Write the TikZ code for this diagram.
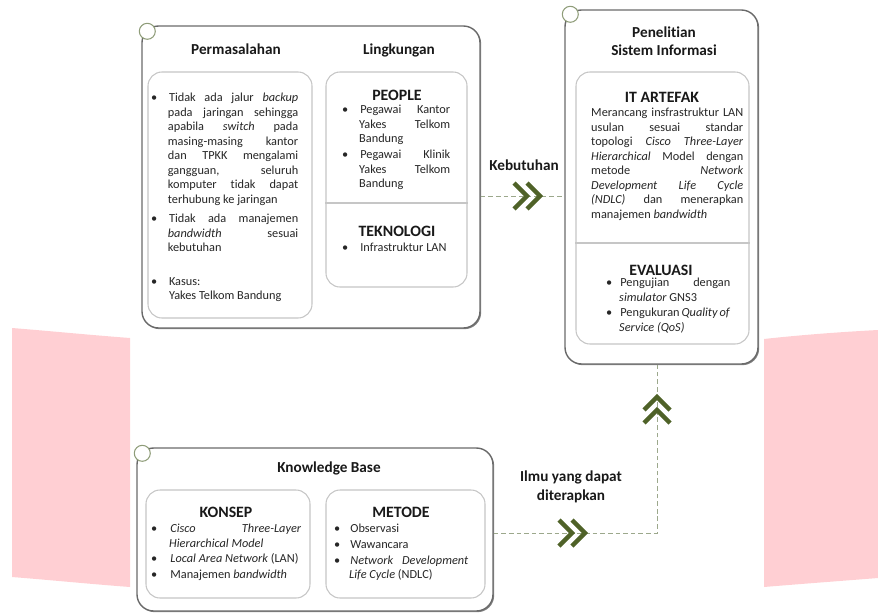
\documentclass[tikz,border=0pt]{standalone}
\usepackage{fontspec}
\setmainfont{Carlito}[Ligatures=NoCommon]
\usetikzlibrary{positioning, shadows}

\definecolor{chevgreen}{HTML}{4F6228}
\definecolor{dashgreen}{HTML}{9CA88C}
\definecolor{ringgreen}{HTML}{8E9C78}
\definecolor{frame}{HTML}{6A6A6A}
\definecolor{softframe}{HTML}{C6C6C6}
\definecolor{pinkband}{HTML}{FFCFD3}

\hyphenpenalty=10000
\exhyphenpenalty=10000
\tolerance=9999
\hbadness=10000

% bullet list used inside the boxes
\newenvironment{dotlist}[1]{%
  \begin{list}{\textbullet}{%
    \setlength{\leftmargin}{#1}%
    \setlength{\labelwidth}{0.15cm}%
    \setlength{\labelsep}{\dimexpr#1-0.15cm\relax}%
    \setlength{\itemsep}{1pt}\setlength{\parsep}{0pt}%
    \setlength{\topsep}{0pt}\setlength{\partopsep}{0pt}}}%
  {\end{list}}

\begin{document}
\begin{tikzpicture}[
        x=0.03cm, y=-0.03cm,
        outerbox/.style={draw=frame, line width=1.2pt, fill=white, rounded corners=0.5cm,
            drop shadow={shadow xshift=1pt, shadow yshift=-1pt, fill=black!60, opacity=0.8}},
        innerbox/.style={draw=softframe, line width=0.9pt, fill=white, rounded corners=0.42cm},
        ring/.style={circle, draw=ringgreen, line width=0.9pt, fill=white, minimum size=0.48cm, inner sep=0pt},
        title/.style={font=\fontsize{13}{16}\selectfont\bfseries, text=black!90, align=center},
        header/.style={font=\fontsize{13.5}{16}\selectfont\bfseries, text=black!90},
        body/.style={anchor=north west, inner sep=0pt, align=justify,
            font=\fontsize{10.5}{12.4}\selectfont, text=black!85},
        link/.style={draw=dashgreen, line width=0.8pt, dash pattern=on 4pt off 2.5pt},
        chevron/.style={draw=chevgreen, line width=3.8pt},
        chevrons/.pic={
            \draw[chevron] (-13,-13) -- (0,0) -- (-13,13);
            \draw[chevron] (0,-13) -- (13,0) -- (0,13);}
        ]
        \useasboundingbox (0,0) rectangle (878,614);

        % background bands
        \fill[pinkband] (12,328) .. controls (50,331) and (90,335) .. (130,338) -- (130,587)
            .. controls (90,584) and (50,580) .. (12,577) -- cycle;
        \fill[pinkband] (764,339) .. controls (800,335) and (840,332) .. (878,330) -- (878,578)
            .. controls (840,581) and (800,584) .. (764,587) -- cycle;

        % outer boxes
        \node[outerbox, minimum width=10.14cm, minimum height=9.06cm] (env) at (311,177) {};
        \node[outerbox, minimum width=5.79cm, minimum height=10.62cm] (riset) at (661.5,187) {};
        \node[outerbox, minimum width=10.68cm, minimum height=4.89cm] (kb) at (315,529.5) {};
        \node[ring] (envring) at ([shift={(6,6)}]env.north west) {};
        \node[ring] (risetring) at ([shift={(6,5)}]riset.north west) {};
        \node[ring] (kbring) at ([shift={(6,6)}]kb.north west) {};

        % inner boxes
        \node[innerbox, minimum width=4.92cm, minimum height=7.38cm] (masalah) at (230,195) {};
        \node[innerbox, minimum width=4.23cm, minimum height=6.45cm] (lingk) at (396.5,179.5) {};
        \node[innerbox, minimum width=5.19cm, minimum height=8.16cm] (artefak) at (662.5,208) {};
        \node[innerbox, minimum width=4.92cm, minimum height=3.24cm] (konsep) at (228,544) {};
        \node[innerbox, minimum width=4.77cm, minimum height=3.24cm] (metode) at (405.5,544) {};
        \draw[softframe, line width=0.9pt] (lingk.west |- 0,203) -- (lingk.east |- 0,203);
        \draw[softframe, line width=0.9pt] (artefak.west |- 0,243) -- (artefak.east |- 0,243);

        % titles
        \node[title] (masalahtitle) at (236,49) {Permasalahan};
        \node[title] (lingktitle) at (399,50) {Lingkungan};
        \node[title, font=\fontsize{13}{15.3}\selectfont\bfseries] (risettitle) at (664,41) {Penelitian\\Sistem Informasi};
        \node[title] (kbtitle) at (329,468) {Knowledge Base};
        \node[header] (peoplehead) at (397,95) {PEOPLE};
        \node[header] (teknohead) at (397,231) {TEKNOLOGI};
        \node[header] (artefakhead) at (662,97) {IT ARTEFAK};
        \node[header] (evalhead) at (661,270) {EVALUASI};
        \node[header] (konsephead) at (226,512) {KONSEP};
        \node[header] (metodehead) at (401,512) {METODE};

        % box texts
        \node[body, text width=4.41cm] (masalahtext) at (151,87) {\begin{dotlist}{0.5cm}
            \item Tidak ada jalur \emph{backup}\linebreak pada jaringan sehingga\linebreak
                apabila \emph{switch} pada\linebreak masing-masing kantor\linebreak
                dan TPKK mengalami\linebreak gangguan, seluruh\linebreak
                komputer tidak dapat\linebreak terhubung ke jaringan\par\vspace{3pt}
            \item Tidak ada manajemen\linebreak \emph{bandwidth} sesuai\linebreak kebutuhan\par\vspace{15pt}
            \item Kasus:\\\hspace*{1pt}Yakes Telkom Bandung
            \end{dotlist}};
        \node[body, text width=3.24cm] (peopletext) at (342,99) {\begin{dotlist}{0.51cm}
            \item Pegawai Kantor\linebreak Yakes Telkom\linebreak Bandung
            \item Pegawai Klinik\linebreak Yakes Telkom\linebreak Bandung
            \end{dotlist}};
        \node[body, text width=3.24cm] (teknotext) at (342,237) {\begin{dotlist}{0.51cm}
            \item Infrastruktur LAN
            \end{dotlist}};
        \node[body, text width=4.56cm] (artefaktext) at (591,108) {Merancang insfrastruktur LAN\linebreak
            usulan sesuai standar\linebreak topologi \emph{Cisco Three-Layer}\linebreak
            \emph{Hierarchical} Model dengan\linebreak metode \emph{Network}\linebreak
            \emph{Development Life Cycle}\linebreak \emph{(NDLC)} dan menerapkan\linebreak
            manajemen \emph{bandwidth}};
        \node[body, text width=3.72cm] (evaltext) at (606,272) {\begin{dotlist}{0.39cm}
            \item Pengujian dengan\linebreak \emph{simulator} GNS3
            \item Pengukuran \emph{Quality of}\linebreak \emph{Service (QoS)}
            \end{dotlist}};
        \node[body, text width=4.5cm] (konseptext) at (151,518) {\begin{dotlist}{0.54cm}
            \item \emph{Cisco Three-Layer}\linebreak \emph{Hierarchical Model}
            \item \emph{Local Area Network} (LAN)
            \item Manajemen \emph{bandwidth}
            \end{dotlist}};
        \node[body, text width=4.02cm] (metodetext) at (334,518) {\begin{dotlist}{0.45cm}
            \item Observasi
            \item Wawancara
            \item \emph{Network Development}\linebreak \emph{Life Cycle} (NDLC)
            \end{dotlist}};

        % connectors
        \coordinate (needmark) at (527,196);
        \coordinate (applymark) at (572,533);
        \coordinate (upmark) at (657,410);
        \node[title] (needtext) at (524,165) {Kebutuhan};
        \node[title, font=\fontsize{13}{16.5}\selectfont\bfseries] (applytext) at (571,487) {Ilmu yang dapat\\diterapkan};
        \draw[link] (env.east |- needmark) -- (riset.west |- needmark);
        \draw[link] (kb.east |- applymark) -- (upmark |- applymark) -- (upmark |- riset.south);
        \pic at (needmark) {chevrons};
        \pic at (applymark) {chevrons};
        \pic[rotate=90] at (upmark) {chevrons};
\end{tikzpicture}
\end{document}
